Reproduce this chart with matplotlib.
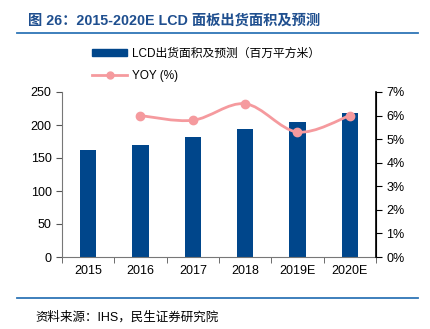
import numpy as np
import matplotlib.pyplot as plt
from matplotlib.path import Path
from matplotlib.patches import PathPatch
from matplotlib.lines import Line2D

plt.rcParams['font.family'] = ['Liberation Sans', 'Noto Sans CJK SC', 'DejaVu Sans']

# data
years = ['2015', '2016', '2017', '2018', '2019E', '2020E']
area = [162, 170, 182, 194, 205, 218]
yoy_years = ['2016', '2017', '2018', '2019E', '2020E']
yoy = [6.0, 5.8, 6.5, 5.3, 6.0]

bar_color = '#00468B'
line_color = '#F59A9E'

fig = plt.figure(figsize=(4.31, 3.29), dpi=100)
ax = fig.add_axes([62/431, 1 - 257/329, 314/431, 165/329])
ax2 = ax.twinx()

x = np.arange(len(years))
ax.bar(x, area, width=0.31, color=bar_color, zorder=2)
ax.set_xlim(-0.5, len(years) - 0.5)
ax.set_ylim(0, 250)
ax.set_yticks(range(0, 251, 50))
ax.set_xticks(x)
ax.set_xticklabels(years)
ax.set_xticks(np.arange(-0.5, len(years), 1), minor=True)
ax.tick_params(axis='x', which='major', length=0, pad=6, labelsize=9)
ax.tick_params(axis='x', which='minor', length=4, direction='out', color='#555555')
ax.tick_params(axis='y', length=4, direction='out', labelsize=9, color='#555555')

# smooth YOY line (Catmull-Rom as cubic beziers through the points)
xi = np.array([years.index(y) for y in yoy_years], dtype=float)
yi = np.array(yoy)
verts = [(xi[0], yi[0])]
codes = [Path.MOVETO]
t = 1 / 6
for i in range(len(xi) - 1):
    p0 = (xi[max(i - 1, 0)], yi[max(i - 1, 0)])
    p1 = (xi[i], yi[i])
    p2 = (xi[i + 1], yi[i + 1])
    p3 = (xi[min(i + 2, len(xi) - 1)], yi[min(i + 2, len(xi) - 1)])
    c1 = (p1[0] + (p2[0] - p0[0]) * t, p1[1] + (p2[1] - p0[1]) * t)
    c2 = (p2[0] - (p3[0] - p1[0]) * t, p2[1] - (p3[1] - p1[1]) * t)
    verts += [c1, c2, p2]
    codes += [Path.CURVE4] * 3
ax2.add_patch(PathPatch(Path(verts, codes), facecolor='none', edgecolor=line_color, lw=2, zorder=3))
ax2.plot(xi, yi, 'o', color=line_color, ms=6, zorder=4)
ax2.set_ylim(0, 7)
ax2.set_yticks(range(0, 8))
ax2.set_yticklabels([f'{v}%' for v in range(0, 8)])
ax2.tick_params(axis='y', length=4, direction='out', labelsize=9, color='#000000')

for a in (ax, ax2):
    a.spines['top'].set_visible(False)
ax.spines['left'].set_color('#777777')
ax.spines['bottom'].set_color('#777777')
ax2.spines['left'].set_visible(False)
ax2.spines['bottom'].set_visible(False)
ax2.spines['right'].set_color('#000000')
ax2.spines['right'].set_linewidth(1.2)

# legend
handles = [plt.Rectangle((0, 0), 1, 1, color=bar_color),
           Line2D([0], [0], color=line_color, lw=2, marker='o', ms=5)]
fig.legend(handles, ['LCD出货面积及预测（百万平方米）', 'YOY (%)'],
           loc='upper left', bbox_to_anchor=(92/431, 1 - 48/329), frameon=False,
           fontsize=8.5, handlelength=3.0, handleheight=0.5, labelspacing=0.85,
           handletextpad=0.4, borderaxespad=0, borderpad=0)

# title and source
fig.text(28/431, 1 - 21/329, '图 26：2015-2020E LCD 面板出货面积及预测', fontsize=10.3,
         fontweight='bold', color='#1F4F8F', va='center', ha='left')
fig.add_artist(Line2D([17/431, 418/431], [1 - 33/329] * 2, color='#2E75B6', lw=1.3))
fig.add_artist(Line2D([17/431, 418/431], [1 - 298/329] * 2, color='#2E75B6', lw=1.3))
fig.text(35/431, 1 - 317/329, '资料来源：IHS，民生证券研究院', fontsize=9, va='center', ha='left')

plt.savefig('out.png', dpi=100)
